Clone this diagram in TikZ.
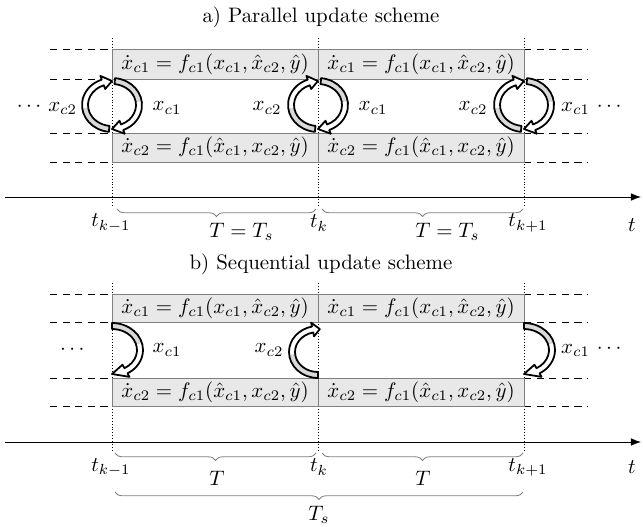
\documentclass[tikz,border=0pt]{standalone}
\usepackage{amsmath,amssymb}
\usetikzlibrary{arrows.meta,positioning,calc,decorations.pathreplacing}

\tikzset{
  eqbox/.style={draw=gray, fill=gray!18},
  tline/.style={densely dotted, thin},
  guide/.style={dash pattern=on 3.5pt off 2.5pt, thin},
  tbrace/.style={decorate, decoration={brace, mirror, amplitude=3.6pt}, gray},
  rbline/.style={draw=black, line width=0.85pt, line join=round},
}

% ribbon arrow: centre x, centre y, tail angle, body end angle, tip angle, x radius, y radius
\newcommand{\ribbon}[7]{%
  \pgfmathsetmacro{\rbmid}{(#3+#4)/2}%
  \begin{scope}[shift={(#1,#2)}]
    \fill[white] (#3:#6 and #7) arc[start angle=#3, end angle=#4, x radius=#6, y radius=#7]
      -- (#4:#6+4 and #7+4) -- (#5:#6-3 and #7-3) -- (#4:#6-10 and #7-10) -- (#4:#6-6 and #7-6)
      arc[start angle=#4, end angle=#3, x radius=#6-6, y radius=#7-6] -- cycle;
    \fill[gray!30] (#3:#6 and #7) arc[start angle=#3, end angle=\rbmid, x radius=#6, y radius=#7]
      -- (\rbmid:#6-6 and #7-6) arc[start angle=\rbmid, end angle=#3, x radius=#6-6, y radius=#7-6] -- cycle;
    \draw[rbline] (#3:#6 and #7) arc[start angle=#3, end angle=#4, x radius=#6, y radius=#7]
      -- (#4:#6+4 and #7+4) -- (#5:#6-3 and #7-3) -- (#4:#6-10 and #7-10) -- (#4:#6-6 and #7-6)
      arc[start angle=#4, end angle=#3, x radius=#6-6, y radius=#7-6] -- cycle;
  \end{scope}}

\begin{document}
\begin{tikzpicture}[x=0.478pt, y=0.478pt]
\useasboundingbox (0,0) rectangle (643,526);

% a) parallel
\node (titleA) at (321,509) {a) Parallel update scheme};
\foreach \x/\n in {112/1, 318/2, 524/3} {
  \coordinate (aTop\n) at (\x,488);
  \coordinate (aBot\n) at (\x,319);
  \draw[tline] (aTop\n) -- (aBot\n);
}
\foreach \y in {477,447,393,364} {
  \draw[guide] (50,\y) -- (112,\y);
  \draw[guide] (524,\y) -- (587,\y);
}
\foreach \x in {112,318} {
  \draw[eqbox] (\x,447) rectangle ++(206,30);
  \draw[eqbox] (\x,364) rectangle ++(206,29);
}
\node (aEq11) at (215,462) {$\dot x_{c1} = f_{c1}(x_{c1},\hat x_{c2},\hat y)$};
\node (aEq21) at (215,378.5) {$\dot x_{c2} = f_{c1}(\hat x_{c1},x_{c2},\hat y)$};
\node (aEq12) at (421,462) {$\dot x_{c1} = f_{c1}(x_{c1},\hat x_{c2},\hat y)$};
\node (aEq22) at (421,378.5) {$\dot x_{c2} = f_{c1}(\hat x_{c1},x_{c2},\hat y)$};
\foreach \x in {112,318,524} {
  \ribbon{\x}{421}{84}{-68}{-90}{30}{27}
  \ribbon{\x}{421}{264}{110}{90}{30}{27}
}
\node (aL0) at (47,418) {$\cdots\, x_{c2}$};
\node (aL1) at (167,418) {$x_{c1}$};
\node (aL2) at (267,418) {$x_{c2}$};
\node (aL3) at (373,418) {$x_{c1}$};
\node (aL4) at (473,418) {$x_{c2}$};
\node (aL5) at (593,418) {$x_{c1}\,\cdots$};
\coordinate (aAxL) at (5,329);
\coordinate (aAxR) at (641,329);
\draw[-{Latex}] (aAxL) -- (aAxR);
\node (aT) at (632,301) {$t$};
\node (atk0) at (111,303) {$t_{k-1}$};
\node (atk1) at (319,303) {$t_k$};
\node (atk2) at (528,303) {$t_{k+1}$};
\draw[tbrace] (117,317) -- (316,317);
\draw[tbrace] (322,317) -- (523,317);
\node (aPer1) at (217,294) {$T\rlap{${}=T_s$}$};
\node (aPer2) at (423,294) {$T\rlap{${}=T_s$}$};

% b) sequential
\node (titleB) at (321,262) {b) Sequential update scheme};
\foreach \x/\n in {112/1, 318/2, 524/3} {
  \coordinate (bTop\n) at (\x,243);
  \coordinate (bBot\n) at (\x,74);
  \draw[tline] (bTop\n) -- (bBot\n);
}
\foreach \y in {232,204,148,120} {
  \draw[guide] (50,\y) -- (112,\y);
  \draw[guide] (524,\y) -- (587,\y);
}
\foreach \x in {112,318} {
  \draw[eqbox] (\x,204) rectangle ++(206,28);
  \draw[eqbox] (\x,120) rectangle ++(206,28);
}
\node (bEq11) at (215,218) {$\dot x_{c1} = f_{c1}(x_{c1},\hat x_{c2},\hat y)$};
\node (bEq21) at (215,134) {$\dot x_{c2} = f_{c1}(\hat x_{c1},x_{c2},\hat y)$};
\node (bEq12) at (421,218) {$\dot x_{c1} = f_{c1}(x_{c1},\hat x_{c2},\hat y)$};
\node (bEq22) at (421,134) {$\dot x_{c2} = f_{c1}(\hat x_{c1},x_{c2},\hat y)$};
\ribbon{112}{176}{90}{-60}{-90}{31}{27}
\ribbon{318}{174}{270}{102}{86}{29}{26}
\ribbon{524}{176}{90}{-60}{-90}{31}{27}
\node (bL0) at (74,176) {$\cdots$};
\node (bL1) at (167,176) {$x_{c1}$};
\node (bL2) at (269,176) {$x_{c2}$};
\node (bL3) at (593,176) {$x_{c1}\,\cdots$};
\coordinate (bAxL) at (5,84);
\coordinate (bAxR) at (641,84);
\draw[-{Latex}] (bAxL) -- (bAxR);
\node (bT) at (632,59) {$t$};
\node (btk0) at (111,59) {$t_{k-1}$};
\node (btk1) at (319,59) {$t_k$};
\node (btk2) at (528,59) {$t_{k+1}$};
\draw[tbrace] (115,73) -- (316,73);
\draw[tbrace] (322,73) -- (523,73);
\node (bPer1) at (217,48) {$T$};
\node (bPer2) at (423,48) {$T$};
\draw[tbrace] (115,34) -- (523,34);
\node (bPerS) at (319,11) {$T_s$};
\end{tikzpicture}
\end{document}
